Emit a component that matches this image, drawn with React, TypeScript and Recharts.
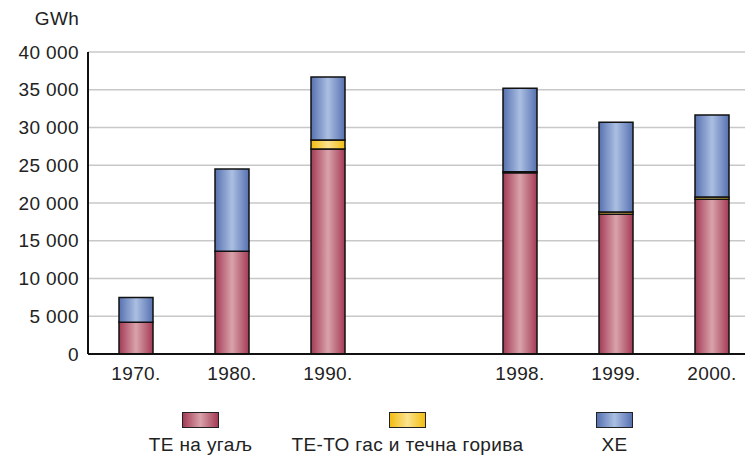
import { BarChart, Bar, XAxis, YAxis, CartesianGrid, Legend } from "recharts";

// Производња електричне енергије, GWh
const years = ["1970.", "1980.", "1990.", "", "1998.", "1999.", "2000."];
const coal = [4200, 13600, 27150, null, 24000, 18500, 20500];
const gasOil = [0, 0, 1200, null, 150, 300, 300];
const hydro = [3300, 10900, 8350, null, 11050, 11900, 10850];
const yTicks = [0, 5000, 10000, 15000, 20000, 25000, 30000, 35000, 40000];

const seriesNames = ["ТЕ на угаљ", "ТЕ-ТО гас и течна горива", "ХЕ"];

const data = years.map((year, i) => ({
  year,
  coal: coal[i],
  gasOil: gasOil[i],
  hydro: hydro[i],
}));

const FONT = "'Liberation Sans', Arial, sans-serif";
const textStyle = { fontSize: 19, fontFamily: FONT, fill: "#222", letterSpacing: 0.4 };

const fmt = (v: number) => String(v).replace(/\B(?=(\d{3})+(?!\d))/g, " ");

const legendItems = [
  { name: seriesNames[0], grad: "gCoal" },
  { name: seriesNames[1], grad: "gGas" },
  { name: seriesNames[2], grad: "gHydro" },
];

const swatchBg: Record<string, string> = {
  gCoal: "linear-gradient(to right, #a33a55, #d9a3ab 50%, #a33a55)",
  gGas: "linear-gradient(to right, #f2bd10, #fbe38f 50%, #f2bd10)",
  gHydro: "linear-gradient(to right, #5671b0, #abbfe2 50%, #5671b0)",
};

function LegendBox() {
  return (
    <div style={{ display: "flex", paddingLeft: 97 }}>
      {legendItems.map((it) => (
        <div
          key={it.name}
          style={{
            width: 207,
            display: "flex",
            flexDirection: "column",
            alignItems: "center",
            fontFamily: FONT,
            fontSize: 19,
            letterSpacing: 0.4,
            color: "#222",
          }}
        >
          <div
            style={{
              width: 35,
              height: 14,
              border: "1.5px solid #222",
              background: swatchBg[it.grad],
              marginBottom: 6,
            }}
          />
          <span style={{ whiteSpace: "nowrap" }}>{it.name}</span>
        </div>
      ))}
    </div>
  );
}

export default function App() {
  return (
    <div
      style={{
        position: "absolute",
        left: 0,
        top: 0,
        width: 745,
        height: 457,
        overflow: "hidden",
        background: "#fff",
      }}
    >
      <BarChart
        width={760}
        height={457}
        data={data}
        margin={{ top: 52, right: 0, bottom: 29, left: 0 }}
        barSize={34}
      >
        <defs>
          <linearGradient id="gCoal" x1="0" y1="0" x2="1" y2="0">
            <stop offset="0%" stopColor="#a33a55" />
            <stop offset="50%" stopColor="#d9a3ab" />
            <stop offset="100%" stopColor="#a33a55" />
          </linearGradient>
          <linearGradient id="gGas" x1="0" y1="0" x2="1" y2="0">
            <stop offset="0%" stopColor="#f2bd10" />
            <stop offset="50%" stopColor="#fbe38f" />
            <stop offset="100%" stopColor="#f2bd10" />
          </linearGradient>
          <linearGradient id="gHydro" x1="0" y1="0" x2="1" y2="0">
            <stop offset="0%" stopColor="#5671b0" />
            <stop offset="50%" stopColor="#abbfe2" />
            <stop offset="100%" stopColor="#5671b0" />
          </linearGradient>
        </defs>

        <CartesianGrid vertical={false} stroke="#c8c8c8" strokeWidth={1.5} />

        <XAxis
          dataKey="year"
          height={30}
          tickLine={false}
          tickMargin={7}
          axisLine={{ stroke: "#111", strokeWidth: 2 }}
          tick={textStyle}
          interval={0}
        />

        <YAxis
          width={88}
          domain={[0, 40000]}
          ticks={yTicks}
          tickFormatter={fmt}
          tickLine={false}
          tickMargin={3}
          axisLine={{ stroke: "#111", strokeWidth: 2 }}
          tick={textStyle}
          label={{
            value: "GWh",
            position: "top",
            dx: 13,
            dy: -22,
            style: textStyle,
          }}
        />

        <Legend
          content={() => <LegendBox />}
          wrapperStyle={{ position: "absolute", top: 412, left: 0, width: 745 }}
        />

        <Bar
          dataKey="coal"
          name={seriesNames[0]}
          stackId="a"
          fill="url(#gCoal)"
          stroke="#111"
          strokeWidth={1.5}
          isAnimationActive={false}
        />
        <Bar
          dataKey="gasOil"
          name={seriesNames[1]}
          stackId="a"
          fill="url(#gGas)"
          stroke="#111"
          strokeWidth={1.5}
          isAnimationActive={false}
        />
        <Bar
          dataKey="hydro"
          name={seriesNames[2]}
          stackId="a"
          fill="url(#gHydro)"
          stroke="#111"
          strokeWidth={1.5}
          isAnimationActive={false}
        />
      </BarChart>
    </div>
  );
}
